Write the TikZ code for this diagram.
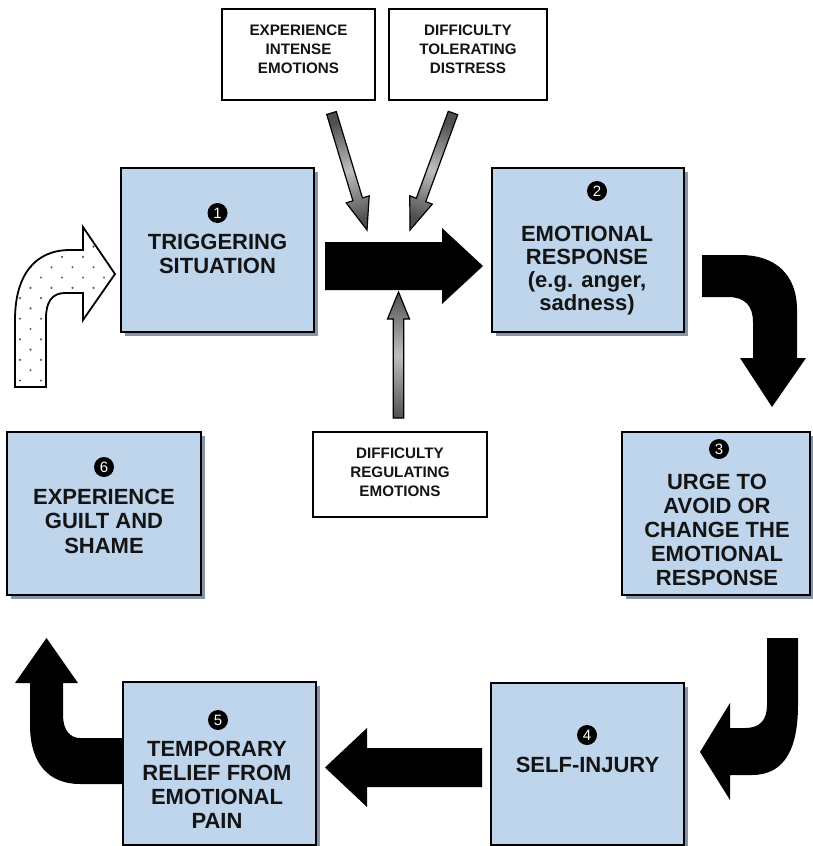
\documentclass[tikz,border=0pt]{standalone}
\usepackage{fontspec}
\setmainfont{Liberation Sans}
\usetikzlibrary{calc,shadows}
\definecolor{boxblue}{RGB}{190,213,236}
\definecolor{shadowc}{RGB}{135,148,170}
\definecolor{garkD}{RGB}{80,80,80}
\definecolor{garkL}{RGB}{190,190,190}
\definecolor{dotc}{RGB}{90,90,90}
\pgfdeclarelayer{bg}
\pgfsetlayers{bg,main}
\newcommand{\blockarr}[6][]{%
  \coordinate (hb) at ($(#3)!#6!(#2)$);
  \path[#1] ($(#2)!#4!90:(#3)$) -- ($(hb)!#4!90:(#3)$) -- ($(hb)!#5!90:(#3)$) -- (#3)
    -- ($(hb)!#5!-90:(#3)$) -- ($(hb)!#4!-90:(#3)$) -- ($(#2)!#4!-90:(#3)$) -- cycle;}
\tikzset{
  boxn/.style={draw=black, line width=1.8pt, fill=boxblue, inner sep=0pt,
    drop shadow={shadow xshift=4pt, shadow yshift=-4pt, fill=shadowc, opacity=1}},
  wbox/.style={draw=black, line width=1.8pt, fill=white, inner sep=0pt},
  btxt/.style={align=center, inner sep=0pt, text=black!92, font=\bfseries\fontsize{22}{24}\selectfont},
  stxt/.style={align=center, inner sep=0pt, text=black!92, font=\bfseries\fontsize{15.2}{19}\selectfont},
  numc/.style={circle, fill=black, text=white, inner sep=0pt, minimum size=20pt, font=\fontsize{15}{15}\selectfont},
  blk/.style={fill=black},
  gry/.style={draw=black, line width=1.2pt, left color=garkD, right color=garkD, middle color=garkL},
}
\begin{document}
\begin{tikzpicture}[x=1pt,y=-1pt]
\useasboundingbox (0,0) rectangle (812,846);

% main boxes
\node[boxn, minimum width=193pt, minimum height=164pt] (b1) at (217.5,250) {};
\node[boxn, minimum width=192pt, minimum height=164pt] (b2) at (588,250) {};
\node[boxn, minimum width=188pt, minimum height=163pt] (b3) at (716,513.5) {};
\node[boxn, minimum width=193pt, minimum height=162pt] (b4) at (587.5,764) {};
\node[boxn, minimum width=193pt, minimum height=163pt] (b5) at (219.5,763.5) {};
\node[boxn, minimum width=194pt, minimum height=163pt] (b6) at (104,513.5) {};

% white boxes
\node[wbox, minimum width=153pt, minimum height=91pt] (wA) at (298.5,54.5) {};
\node[wbox, minimum width=158pt, minimum height=91pt] (wB) at (468,54.5) {};
\node[wbox, minimum width=174pt, minimum height=85pt] (wC) at (400,474.5) {};

% texts
\node[btxt, font=\bfseries\fontsize{22}{23.5}\selectfont] (t1) at (217.5,254) {TRIGGERING\\SITUATION};
\node[btxt, font=\bfseries\fontsize{22}{23}\selectfont] (t2) at (587,271) {EMOTIONAL\\RESPONSE\\(e.g. anger,\\sadness)};
\node[btxt] (t3) at (717,530.3) {URGE TO\\AVOID OR\\CHANGE THE\\EMOTIONAL\\RESPONSE};
\node[btxt, anchor=base] (t4) at (587.5,772) {SELF-INJURY};
\node[btxt] (t5) at (217,785.3) {TEMPORARY\\RELIEF FROM\\EMOTIONAL\\PAIN};
\node[btxt, font=\bfseries\fontsize{22}{24.5}\selectfont] (t6) at (104,521.3) {EXPERIENCE\\GUILT AND\\SHAME};
\node[stxt] (tA) at (298.5,48.8) {EXPERIENCE\\INTENSE\\EMOTIONS};
\node[stxt] (tB) at (468,48.8) {DIFFICULTY\\TOLERATING\\DISTRESS};
\node[stxt] (tC) at (400,471.8) {DIFFICULTY\\REGULATING\\EMOTIONS};

% numbers
\node[numc] (c1) at (217.5,213) {1};
\node[numc] (c2) at (597,191) {2};
\node[numc] (c3) at (719,449) {3};
\node[numc] (c4) at (587,735) {4};
\node[numc] (c5) at (218,720) {5};
\node[numc] (c6) at (104,467) {6};

% connector end points
\coordinate (gA1) at (331.5,113); \coordinate (gA2) at (367,230);
\coordinate (gB1) at (453,113);   \coordinate (gB2) at (410,230);
\coordinate (gC1) at (398.5,418); \coordinate (gC2) at (398.5,292);
\coordinate (k1) at (325,266);    \coordinate (k2) at (483,266);
\coordinate (k3) at (482,767.5);  \coordinate (k4) at (325,767.5);

\begin{pgfonlayer}{bg}
  % gray input arrows
  \blockarr[gry, shading angle=16.7]{gA1}{gA2}{5pt}{12pt}{32pt}
  \blockarr[gry, shading angle=-20]{gB1}{gB2}{5pt}{12pt}{32pt}
  \blockarr[gry, shading angle=0]{gC1}{gC2}{5.3pt}{11pt}{27pt}
  % black straight arrows
  \blockarr[blk]{k1}{k2}{24pt}{38pt}{41pt}
  \blockarr[blk]{k3}{k4}{19.5pt}{39.5pt}{42pt}
  % curved arrow 2 -> 3
  \fill[black] (702,255) -- (740,255) .. controls (776,255) and (797,275) .. (797,310)
    -- (797,358) -- (806,358) -- (772,407) -- (740,358) -- (753,358) -- (753,322)
    .. controls (753,306) and (745,297) .. (728,297) -- (702,297) -- cycle;
  % curved arrow 3 -> 4
  \fill[black] (767,638) -- (798,638) -- (798,705) .. controls (798,748) and (785,775) .. (752,775)
    -- (730,775) -- (730,800) -- (700,752) -- (730,703) -- (730,728) -- (745,728)
    .. controls (760,728) and (767,720) .. (767,705) -- cycle;
  % curved arrow 5 -> 6
  \fill[black] (135,738) -- (80,738) .. controls (70,738) and (63,730) .. (63,715)
    -- (63,683) -- (78,683) -- (46.5,638) -- (15,683) -- (30,683) -- (30,725)
    .. controls (30,765) and (50,784) .. (80,784) -- (135,784) -- cycle;
  % dotted entry arrow
  \def\dotpath{(15,387) -- (15,320) .. controls (15,275) and (35,250) .. (70,250) -- (83,250)
    -- (83,227) -- (115,274) -- (83,320) -- (83,293) -- (65,293)
    .. controls (52,293) and (46,302) .. (46,318) -- (46,387) -- cycle}
  \fill[white] \dotpath;
  \begin{scope}
    \clip \dotpath;
    \foreach \j in {0,...,16}{
      \foreach \i in {0,...,6}{
        \fill[dotc] ({-1+\i*21+(1-mod(\j,2))*10.5},{226+\j*10.3}) circle (1.2pt);
      }
    }
  \end{scope}
  \draw[line width=1.8pt, line join=miter] \dotpath;
\end{pgfonlayer}
\end{tikzpicture}
\end{document}
